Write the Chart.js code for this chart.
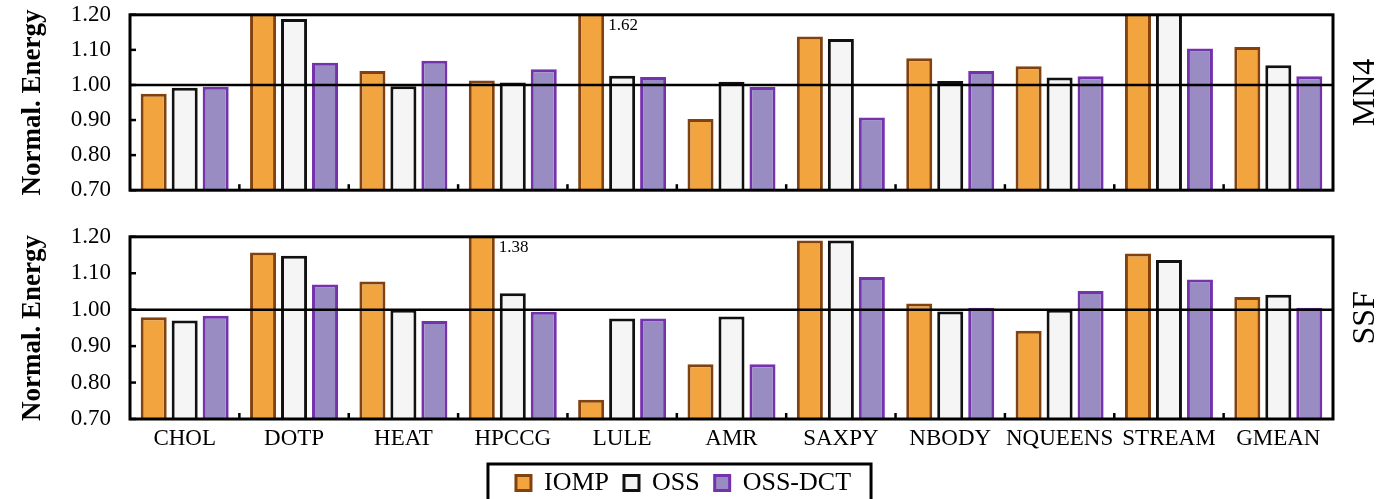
<!DOCTYPE html>
<html>
<head>
<meta charset="utf-8">
<script src="https://cdn.jsdelivr.net/npm/chart.js@4.4.1/dist/chart.umd.min.js"></script>
<style>
  body { margin: 0; background: #fff; }
  #wrap { position: relative; width: 1382px; height: 499px; overflow: hidden; }
  canvas { position: absolute; left: 0; top: 0; }
</style>
</head>
<body>
<div id="wrap">
  <canvas id="topChart" width="1382" height="200"></canvas>
  <canvas id="bottomChart" width="1382" height="277"></canvas>
</div>
<script>
// Benchmarks on the x axis
const categories = ['CHOL', 'DOTP', 'HEAT', 'HPCCG', 'LULE', 'AMR', 'SAXPY', 'NBODY', 'NQUEENS', 'STREAM', 'GMEAN'];
const seriesNames = ['IOMP', 'OSS', 'OSS-DCT'];

// MN4 panel (values above 1.20 are cut off at the top of the frame)
const mn4Iomp = [0.975, 1.25, 1.04, 1.013, 1.62, 0.903, 1.138, 1.076, 1.053, 1.25, 1.108];
const mn4Oss = [0.992, 1.188, 0.996, 1.007, 1.026, 1.009, 1.131, 1.011, 1.021, 1.25, 1.056];
const mn4Dct = [0.995, 1.063, 1.069, 1.045, 1.023, 0.994, 0.907, 1.040, 1.025, 1.104, 1.025];

// SSF panel
const ssfIomp = [0.979, 1.157, 1.077, 1.38, 0.753, 0.850, 1.190, 1.017, 0.942, 1.154, 1.035];
const ssfOss = [0.970, 1.148, 1.000, 1.045, 0.976, 0.981, 1.190, 0.995, 1.000, 1.136, 1.041];
const ssfDct = [0.983, 1.069, 0.969, 0.994, 0.976, 0.850, 1.090, 1.005, 1.051, 1.083, 1.005];

// Axis range and tick labels
const yMin = 0.7;
const yMax = 1.2;
const yTicks = [0.70, 0.80, 0.90, 1.00, 1.10, 1.20];

const SERIF = "'Liberation Serif', 'DejaVu Serif', serif";
Chart.defaults.font.family = SERIF;
Chart.defaults.color = '#000';

const fills = ['#F2A43F', '#F5F5F5', '#998CC3'];
const borders = ['#82420F', '#111111', '#7432AC'];

function buildDatasets(values) {
    return values.map((vals, i) => ({
        label: seriesNames[i],
        data: vals,
        backgroundColor: fills[i],
        borderColor: borders[i],
        borderWidth: 3,
        borderSkipped: false,
        categoryPercentage: 0.85,
        barPercentage: 0.84
    }));
}

// Frame, reference line at 1.00, inward ticks, cut-off labels and panel name
const decorPlugin = {
    id: 'decor',
    afterLayout(chart, args, opts) {
        // the legend sits a little right of the canvas centre
        const lg = chart.legend;
        if (lg && lg.options.display && opts.legendShift) {
            lg.left += opts.legendShift;
            lg.right += opts.legendShift;
        }
    },
    afterDatasetsDraw(chart, args, opts) {
        const ctx = chart.ctx;
        const area = chart.chartArea;
        const x = chart.scales.x;
        const y = chart.scales.y;
        ctx.save();
        ctx.strokeStyle = '#000';

        // line at 1.00
        ctx.lineWidth = 2.5;
        const y1 = y.getPixelForValue(1.0);
        ctx.beginPath();
        ctx.moveTo(area.left, y1);
        ctx.lineTo(area.right, y1);
        ctx.stroke();

        // y ticks pointing inward
        yTicks.forEach(v => {
            const py = y.getPixelForValue(v);
            ctx.beginPath();
            ctx.moveTo(area.left, py);
            ctx.lineTo(area.left + 6, py);
            ctx.stroke();
        });

        // x ticks between categories
        for (let i = 1; i < categories.length; i++) {
            const px = (x.getPixelForValue(i - 1) + x.getPixelForValue(i)) / 2;
            ctx.beginPath();
            ctx.moveTo(px, area.bottom);
            ctx.lineTo(px, area.bottom - 6);
            ctx.stroke();
        }

        // frame
        ctx.lineWidth = 3;
        ctx.strokeRect(area.left, area.top, area.right - area.left, area.bottom - area.top);

        // value label for the bar that is cut off
        if (opts.note) {
            const bar = chart.getDatasetMeta(opts.note.dataset).data[opts.note.index];
            ctx.font = '17px ' + SERIF;
            ctx.fillStyle = '#000';
            ctx.textAlign = 'left';
            ctx.textBaseline = 'middle';
            ctx.fillText(opts.note.text, bar.x + bar.width / 2 + 4, area.top + 11);
        }

        // panel name on the right
        ctx.font = '32px ' + SERIF;
        ctx.fillStyle = '#000';
        ctx.textAlign = 'center';
        ctx.textBaseline = 'middle';
        ctx.translate(area.right + 33, (area.top + area.bottom) / 2 - 10);
        ctx.rotate(-Math.PI / 2);
        ctx.fillText(opts.panel, 0, 0);
        ctx.restore();
    },
    afterDraw(chart) {
        // box around the legend
        const lg = chart.legend;
        if (!lg || !lg.options.display || !lg.legendHitBoxes.length) return;
        const boxes = lg.legendHitBoxes;
        const left = Math.min(...boxes.map(b => b.left)) - 28;
        const right = Math.max(...boxes.map(b => b.left + b.width)) + 20;
        const top = Math.min(...boxes.map(b => b.top)) - 6;
        const ctx = chart.ctx;
        ctx.save();
        ctx.strokeStyle = '#000';
        ctx.lineWidth = 3;
        ctx.strokeRect(left, top, right - left, chart.height + 10 - top);
        ctx.restore();
    }
};

function makeChart(id, values, panel, note, showX) {
    return new Chart(document.getElementById(id), {
        type: 'bar',
        data: { labels: categories, datasets: buildDatasets(values) },
        plugins: [decorPlugin],
        options: {
            responsive: false,
            maintainAspectRatio: false,
            animation: false,
            layout: { padding: { top: 15, right: 49, bottom: 2, left: 0 } },
            scales: {
                x: {
                    grid: { display: false, drawTicks: false },
                    border: { display: false },
                    ticks: {
                        display: showX,
                        padding: 6,
                        autoSkip: false,
                        maxRotation: 0,
                        minRotation: 0,
                        font: { size: 23 }
                    },
                    afterFit: s => { s.height = showX ? 36 : 0; }
                },
                y: {
                    min: yMin,
                    max: yMax,
                    grid: { display: false, drawTicks: false },
                    border: { display: false },
                    ticks: {
                        stepSize: 0.1,
                        padding: 19,
                        font: { size: 23 },
                        callback: v => Number(v).toFixed(2)
                    },
                    title: {
                        display: true,
                        text: 'Normal. Energy',
                        font: { size: 27, weight: 'bold' },
                        padding: { top: 17, bottom: 0 }
                    },
                    afterFit: s => { s.width = 130; }
                }
            },
            plugins: {
                legend: {
                    display: showX,
                    position: 'bottom',
                    labels: {
                        boxWidth: 15,
                        boxHeight: 15,
                        padding: 15,
                        font: { size: 26 }
                    }
                },
                tooltip: { enabled: false },
                decor: { panel: panel, note: note, legendShift: 17 }
            }
        }
    });
}

// size each canvas so its plot frame lands where the figure has it
function place(chart, top, bottom) {
    const a = chart.chartArea;
    const h = Math.round(a.top + (bottom - top) + (chart.height - a.bottom));
    chart.resize(1382, h);
    chart.canvas.style.top = (top - chart.chartArea.top) + 'px';
}

const topChart = makeChart('topChart', [mn4Iomp, mn4Oss, mn4Dct], 'MN4', { dataset: 0, index: 4, text: '1.62' }, false);
const bottomChart = makeChart('bottomChart', [ssfIomp, ssfOss, ssfDct], 'SSF', { dataset: 0, index: 3, text: '1.38' }, true);
place(topChart, 15, 190);
place(bottomChart, 237, 419);
</script>
</body>
</html>
